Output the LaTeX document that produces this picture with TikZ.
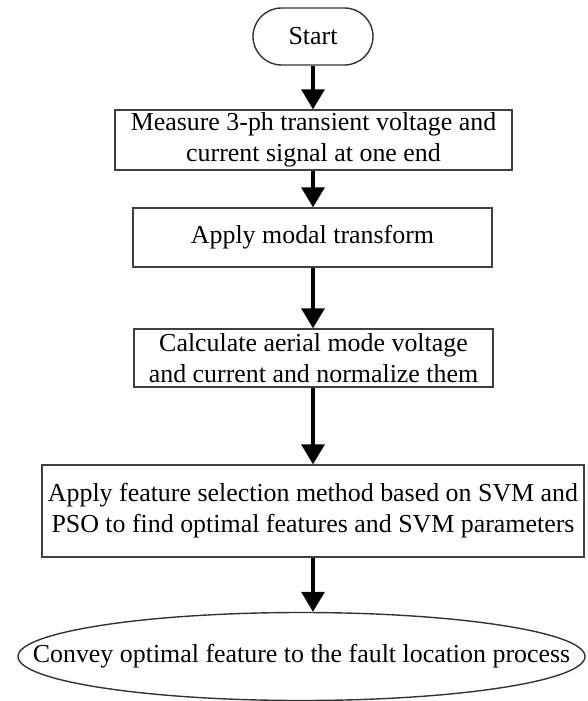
\documentclass[tikz,border=0pt]{standalone}
\usepackage{fontspec}
\setmainfont{Liberation Serif}
\usetikzlibrary{shapes.geometric,shapes.misc,arrows.meta}
\begin{document}
\begin{tikzpicture}[x=1bp,y=-1bp,
  every node/.style={font=\fontsize{26}{31}\selectfont, align=center, inner sep=0pt},
  procbox/.style={draw=black!75, line width=1.4bp, fill=white, rectangle},
  termbox/.style={draw=black!80, line width=1.4bp, fill=white, rounded rectangle},
  endell/.style={draw=black!80, line width=1.4bp, fill=white, ellipse, inner xsep=-75bp, inner ysep=0pt},
  flow/.style={line width=3.5bp, -{Triangle[length=20bp,width=23bp]}}]
\useasboundingbox (0,0) rectangle (588,701);
\node[termbox, minimum width=120bp, minimum height=57bp] (s) at (313,36.5) {Start};
\node[procbox, minimum width=397bp, minimum height=60bp] (b2) at (313.5,140) {Measure 3-ph transient voltage and\\current signal at one end};
\node[procbox, minimum width=359bp, minimum height=59bp] (b3) at (312.5,237.5) {Apply modal transform};
\node[procbox, minimum width=359bp, minimum height=58bp] (b4) at (313.5,358) {Calculate aerial mode voltage\\and current and normalize them};
\node[procbox, minimum width=542bp, minimum height=92bp] (b5) at (313,511) {Apply feature selection method based on SVM and\\PSO to find optimal features and SVM parameters};
\node[endell, minimum width=567bp, minimum height=88bp] (e) at (301.5,656.5) {Convey optimal feature to the fault location process};
\draw[flow] (s.south) -- (s.south |- b2.north);
\draw[flow] (s.south |- b2.south) -- (s.south |- b3.north);
\draw[flow] (s.south |- b3.south) -- (s.south |- b4.north);
\draw[flow] (s.south |- b4.south) -- (s.south |- b5.north);
\draw[flow] (s.south |- b5.south) -- (s.south |- e.north);
\end{tikzpicture}
\end{document}
